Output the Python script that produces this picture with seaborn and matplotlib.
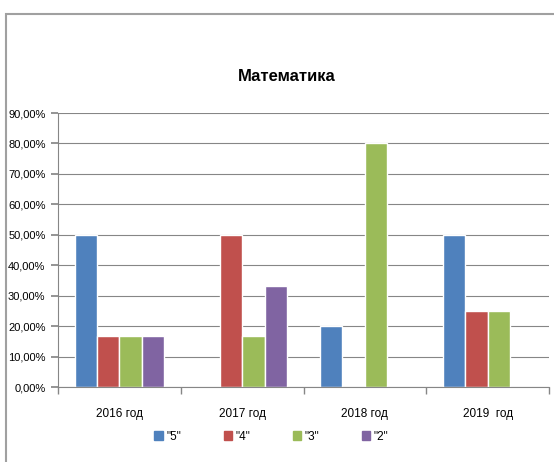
import pandas as pd
import matplotlib.pyplot as plt
import seaborn as sns
from matplotlib.patches import Rectangle
from matplotlib.ticker import FuncFormatter, FixedLocator

# Data
years = ['2016 год', '2017 год', '2018 год', '2019  год']
grades = ['"5"', '"4"', '"3"', '"2"']
grade5 = [50.0, 0.0, 20.0, 50.0]
grade4 = [16.67, 50.0, 0.0, 25.0]
grade3 = [16.67, 16.67, 80.0, 25.0]
grade2 = [16.67, 33.33, 0.0, 0.0]
colors = ['#4F81BD', '#C0504D', '#9BBB59', '#8064A2']

rows = []
for g, vals in zip(grades, [grade5, grade4, grade3, grade2]):
    for y, v in zip(years, vals):
        rows.append({'year': y, 'grade': g, 'value': v})
df = pd.DataFrame(rows)

sns.set_theme(style="white")
plt.rcParams['font.family'] = ['Liberation Sans', 'DejaVu Sans']
plt.rcParams['text.color'] = 'black'
plt.rcParams['xtick.color'] = 'black'
plt.rcParams['ytick.color'] = 'black'

fig = plt.figure(figsize=(5.54, 4.62), dpi=100)
ax = fig.add_axes([0.1047, 0.1623, 0.8863, 0.5931])

sns.barplot(data=df, x='year', y='value', hue='grade', palette=colors,
            width=0.73, gap=0, saturation=1, ax=ax, legend=False)

ax.set_ylim(0, 90)
ax.set_xlim(-0.5, 3.5)
ax.set_yticks(range(0, 91, 10))
ax.yaxis.set_major_formatter(FuncFormatter(lambda v, p: f'{v:.2f}%'.replace('.', ',')))
ax.yaxis.grid(True, color='#868686', linewidth=0.8)
ax.set_axisbelow(True)
ax.set_xlabel('')
ax.set_ylabel('')
for s in ['top', 'right']:
    ax.spines[s].set_visible(False)
for s in ['left', 'bottom']:
    ax.spines[s].set_color('#868686')
    ax.spines[s].set_linewidth(0.8)
ax.tick_params(axis='y', left=True, length=5, color='#868686', labelsize=8, pad=4)
ax.tick_params(axis='x', bottom=False, labelsize=8.5, pad=9)
ax.xaxis.set_minor_locator(FixedLocator([-0.5, 0.5, 1.5, 2.5, 3.5]))
ax.tick_params(axis='x', which='minor', bottom=True, length=5, color='#868686')

# legend
handles = [Rectangle((0, 0), 1, 1, color=c) for c in colors]
fig.legend(handles, grades, loc='center', bbox_to_anchor=(0.49, 0.055), ncol=4,
           frameon=False, fontsize=8.5, handlelength=0.7, handleheight=0.7,
           columnspacing=3.6, handletextpad=0.3)

fig.text(0.517, 0.835, 'Математика', ha='center', va='center',
         fontsize=12, fontweight='bold')

# outer chart border
fig.patches.append(Rectangle((6 / 554, -0.1), 1.2, 1 - 14 / 462 + 0.1,
                             transform=fig.transFigure, fill=False,
                             edgecolor='#A0A0A0', linewidth=1.5))

fig.savefig('out.png', dpi=100)
